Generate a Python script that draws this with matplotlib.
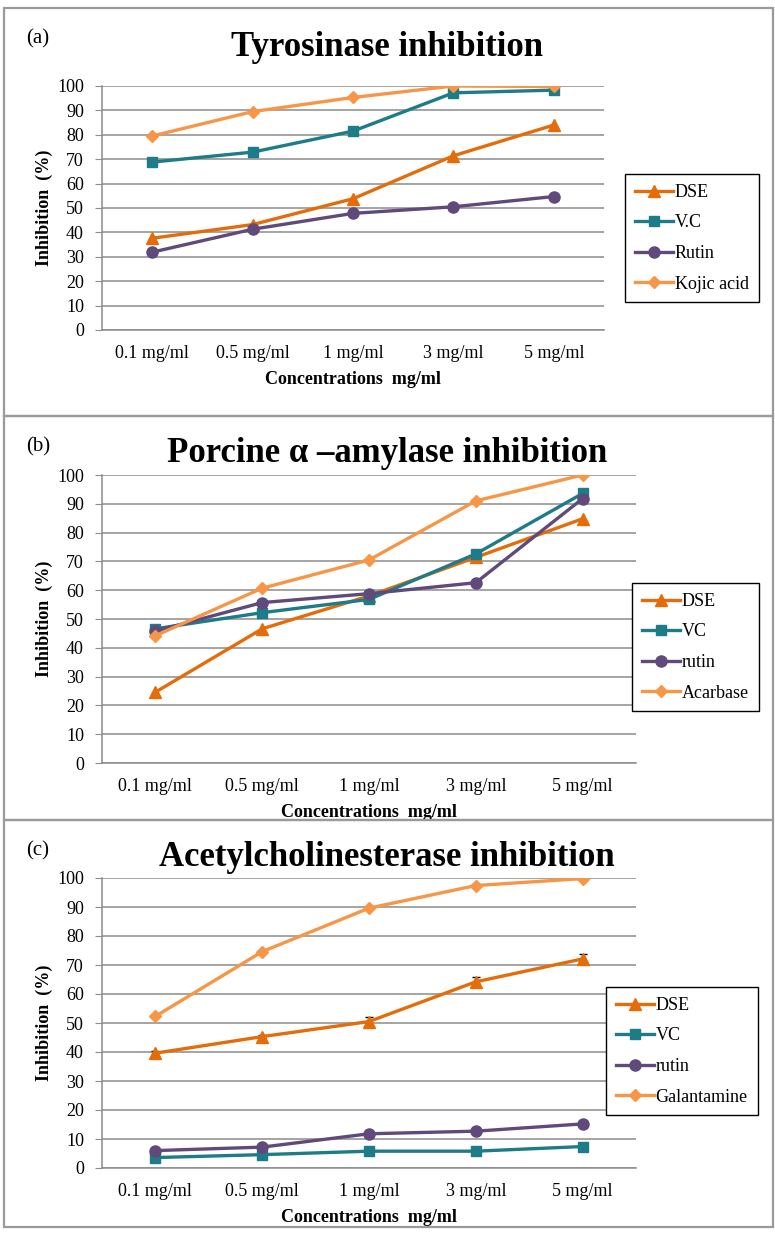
import matplotlib
matplotlib.use('Agg')
import matplotlib.pyplot as plt
from matplotlib.patches import Rectangle
import numpy as np

plt.rcParams['font.family'] = ['Liberation Serif', 'DejaVu Serif']
plt.rcParams['font.size'] = 12

concentrations = ['0.1 mg/ml', '0.5 mg/ml', '1 mg/ml', '3 mg/ml', '5 mg/ml']

# (a) Tyrosinase inhibition (%)
tyr_dse = [37.6, 43.2, 53.8, 71.4, 84.0]
tyr_vc = [68.8, 72.9, 81.5, 97.2, 98.3]
tyr_rutin = [31.9, 41.3, 47.8, 50.5, 54.7]
tyr_kojic = [79.5, 89.5, 95.3, 100.0, 99.8]

# (b) Porcine alpha-amylase inhibition (%)
amy_dse = [24.6, 46.6, 58.0, 71.4, 84.8]
amy_vc = [46.6, 52.2, 56.8, 72.6, 93.6]
amy_rutin = [45.8, 55.7, 58.8, 62.6, 91.8]
amy_acarbase = [44.2, 60.7, 70.5, 91.0, 100.0]

# (c) Acetylcholinesterase inhibition (%)
ache_dse = [39.6, 45.3, 50.5, 64.2, 72.1]
ache_dse_err = [0.8, 0.5, 1.5, 1.6, 1.6]
ache_vc = [3.6, 4.6, 5.8, 5.8, 7.4]
ache_rutin = [6.0, 7.2, 11.8, 12.7, 15.2]
ache_galantamine = [52.3, 74.6, 89.6, 97.4, 99.8]

C_DSE = '#E46C0A'
C_VC = '#1E7B88'
C_RUT = '#5F4A7B'
C_STD = '#F79646'

W, H = 775, 1238
fig = plt.figure(figsize=(W / 100, H / 100), dpi=100)


def px(l, t, r, b):
    # pixel box -> figure fraction [left, bottom, width, height]
    return [l / W, 1 - b / H, (r - l) / W, (b - t) / H]


def panel(rect, frame, tag, title, series, labels, leg_xy, err=None):
    ax = fig.add_axes(px(*rect))
    x = np.arange(len(concentrations)) + 0.5
    markers = ['^', 's', 'o', 'D']
    colors = [C_DSE, C_VC, C_RUT, C_STD]
    sizes = [8, 7.5, 8, 6]
    for vals, lab, m, c, s in zip(series, labels, markers, colors, sizes):
        ax.plot(x, vals, color=c, marker=m, markersize=s, linewidth=2.4,
                label=lab, zorder=3)
    if err is not None:
        ax.errorbar(x, series[0], yerr=err, fmt='none', ecolor='black',
                    elinewidth=0.8, capsize=3, capthick=1, zorder=2)
    ax.set_xlim(0, len(concentrations))
    ax.set_ylim(0, 100)
    ax.set_yticks(np.arange(0, 101, 10))
    ax.set_xticks(x)
    ax.set_xticklabels(concentrations, fontsize=13)
    ax.tick_params(axis='x', length=0, pad=11)
    ax.tick_params(axis='y', length=5, color='#8c8c8c', labelsize=13, pad=8)
    ax.grid(axis='y', color='#8c8c8c', linewidth=1.1)
    ax.set_axisbelow(True)
    for s in ['top', 'right']:
        ax.spines[s].set_visible(False)
    for s in ['left', 'bottom']:
        ax.spines[s].set_color('#8c8c8c')
        ax.spines[s].set_linewidth(1.1)
    ax.set_xlabel('Concentrations  mg/ml', fontsize=13, fontweight='bold',
                  labelpad=6)
    ax.set_ylabel('Inhibition  (%)', fontsize=13, fontweight='bold',
                  labelpad=3)
    ax.legend(loc='upper left', bbox_to_anchor=(leg_xy[0] / W, 1 - leg_xy[1] / H),
              bbox_transform=fig.transFigure, fontsize=13, frameon=True,
              fancybox=False, edgecolor='black', framealpha=1,
              handlelength=2.1, handletextpad=0.1, labelspacing=0.75,
              borderpad=0.55, borderaxespad=0)
    l, t, r, b = frame
    fig.add_artist(Rectangle((l / W, 1 - b / H), (r - l) / W, (b - t) / H,
                             transform=fig.transFigure, fill=False,
                             edgecolor='#9a9a9a', linewidth=1.6))
    fig.text(26 / W, 1 - (t + 31) / H, tag, fontsize=15, va='center')
    fig.text(387 / W, 1 - (t + title[1]) / H, title[0], fontsize=25,
             fontweight='bold', ha='center', va='center')
    return ax


panel((102, 86, 604, 330), (4, 8, 773, 416), '(a)',
      ('Tyrosinase inhibition', 39),
      [tyr_dse, tyr_vc, tyr_rutin, tyr_kojic],
      ['DSE', 'V.C', 'Rutin', 'Kojic acid'], (625, 174))
panel((102, 475, 636, 763), (4, 416, 773, 820), '(b)',
      ('Porcine \u03b1 \u2013amylase inhibition', 37),
      [amy_dse, amy_vc, amy_rutin, amy_acarbase],
      ['DSE', 'VC', 'rutin', 'Acarbase'], (632, 583))
panel((102, 878, 636, 1168), (4, 820, 773, 1227), '(c)',
      ('Acetylcholinesterase inhibition', 37),
      [ache_dse, ache_vc, ache_rutin, ache_galantamine],
      ['DSE', 'VC', 'rutin', 'Galantamine'], (606, 987), err=ache_dse_err)

fig.savefig('out.png', dpi=100, facecolor='white')
